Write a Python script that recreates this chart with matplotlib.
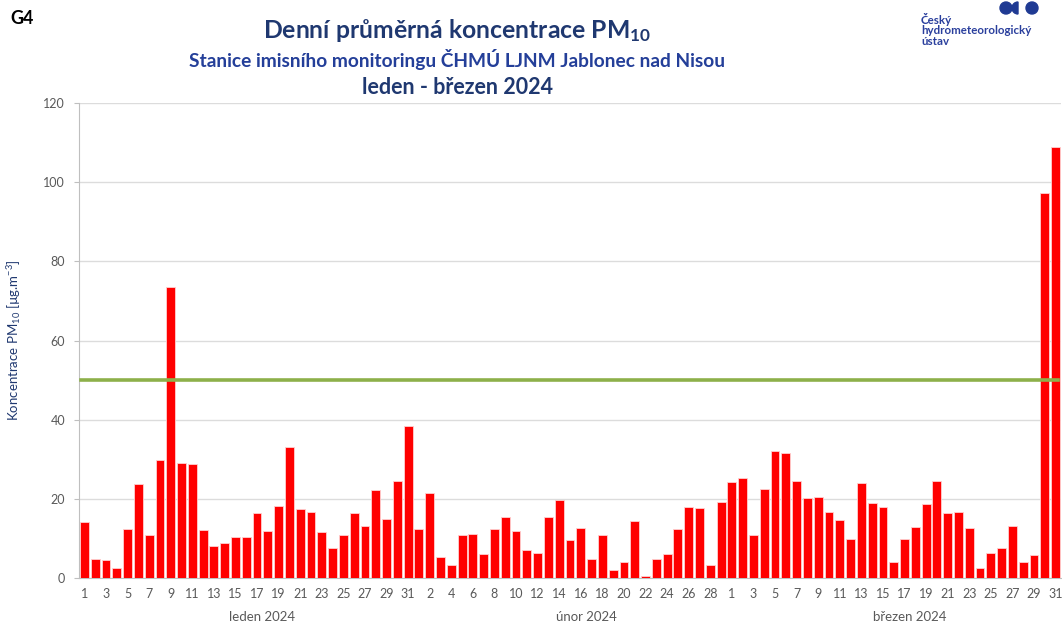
import matplotlib
matplotlib.use("Agg")
import matplotlib.pyplot as plt
from matplotlib.patches import Ellipse, Wedge
import numpy as np

# daily mean PM10 [ug/m3], Jablonec nad Nisou, Jan-Mar 2024
jan = [14.2, 4.9, 4.5, 2.5, 12.3, 23.8, 10.9, 29.9, 73.6, 29.0,
       28.8, 12.1, 8.1, 8.9, 10.3, 10.4, 16.3, 11.9, 18.1, 33.1,
       17.5, 16.7, 11.5, 7.6, 10.9, 16.3, 13.1, 22.2, 14.8, 24.5,
       38.3]
feb = [12.4, 21.6, 5.4, 3.4, 10.8, 11.1, 6.0, 12.5, 15.3, 12.0,
       7.1, 6.2, 15.3, 19.7, 9.5, 12.6, 4.9, 10.8, 2.1, 4.0,
       14.5, 0.5, 4.7, 6.0, 12.4, 17.9, 17.7, 3.2, 19.2]
mar = [24.2, 25.3, 10.8, 22.6, 32.2, 31.5, 24.4, 20.2, 20.5, 16.8,
       14.7, 9.9, 23.9, 18.9, 18.0, 4.1, 9.8, 13.0, 18.7, 24.6,
       16.3, 16.7, 12.6, 2.6, 6.2, 7.5, 13.2, 4.1, 5.7, 97.3,
       108.9]
months = ["leden 2024", "únor 2024", "březen 2024"]
limit = 50  # daily limit value

values = jan + feb + mar
days = [str(d) for m in (jan, feb, mar) for d in range(1, len(m) + 1)]
x = np.arange(len(values))

NAVY = "#1f3870"
GRAY = "#595959"
W, H = 1062, 625

plt.rcParams["font.family"] = ["Lato", "DejaVu Sans"]
plt.rcParams["mathtext.default"] = "regular"

fig = plt.figure(figsize=(W / 100, H / 100), dpi=100)
ax = fig.add_axes([79 / W, 1 - 578 / H, 982 / W, 475 / H])

ax.bar(x, values, width=0.82, color="#ff0000", edgecolor="#ffd0d0",
       linewidth=0.6, zorder=3)
ax.axhline(limit, xmin=0.002, xmax=0.997, color="#8db04a", lw=2.6, zorder=4)

ax.set_xlim(-0.5, len(values) - 0.5)
ax.set_ylim(0, 120)
ax.set_yticks(range(0, 121, 20))
ax.yaxis.grid(True, color="#dcdcdc", lw=1)
ax.set_axisbelow(True)

ax.set_xticks(x[::2])
ax.set_xticklabels(days[::2])
ax.tick_params(axis="x", length=0, pad=7, labelsize=9, labelcolor=GRAY)
ax.tick_params(axis="y", length=3.5, color="#bfbfbf", pad=6.5, labelsize=9,
               labelcolor=GRAY)

for side in ("top", "right"):
    ax.spines[side].set_visible(False)
ax.spines["left"].set_color("#bfbfbf")
ax.spines["bottom"].set_color("#bfbfbf")

# month labels under the day ticks
start = 0
for name, m in zip(months, (jan, feb, mar)):
    centre = start + (len(m) - 1) / 2 + 1.5
    ax.text(centre, -0.082, name, transform=ax.get_xaxis_transform(),
            ha="center", va="center", fontsize=9.5, color=GRAY)
    start += len(m)

ax.set_ylabel("Koncentrace PM$_{10}$ [µg.m$^{-3}$]", fontsize=9.5, color=NAVY)
ax.yaxis.set_label_coords(-0.057, 0.5)

fig.text(457 / W, 1 - 30 / H, "Denní průměrná koncentrace PM$_{10}$",
         ha="center", va="center", fontsize=17.8, fontweight="bold", color=NAVY)
fig.text(457 / W, 1 - 60 / H,
         "Stanice imisního monitoringu ČHMÚ LJNM Jablonec nad Nisou",
         ha="center", va="center", fontsize=13.8, fontweight="bold",
         color="#243f99")
fig.text(457 / W, 1 - 88 / H, "leden - březen 2024",
         ha="center", va="center", fontsize=15.5, fontweight="bold", color=NAVY)
fig.text(10 / W, 1 - 18 / H, "G4", ha="left", va="center",
         fontsize=13, fontweight="bold", color="black")

# CHMI logo, roughly
fig.text(921 / W, 1 - 30 / H, "Český\nhydrometeorologický\nústav",
         ha="left", va="center", fontsize=8.3, fontweight="bold",
         color="#2a3f9d", linespacing=0.95)
logo = "#1f3a93"
fig.patches.append(Ellipse((1006 / W, 1 - 8 / H), 12 / W, 12 / H,
                           transform=fig.transFigure, color=logo))
fig.patches.append(Ellipse((1032 / W, 1 - 8 / H), 12 / W, 12 / H,
                           transform=fig.transFigure, color=logo))
half = Wedge((1018, H - 8), 6, 90, 270, color=logo)
half.set_transform(matplotlib.transforms.IdentityTransform())
fig.patches.append(half)

fig.savefig("out.png", dpi=100)
